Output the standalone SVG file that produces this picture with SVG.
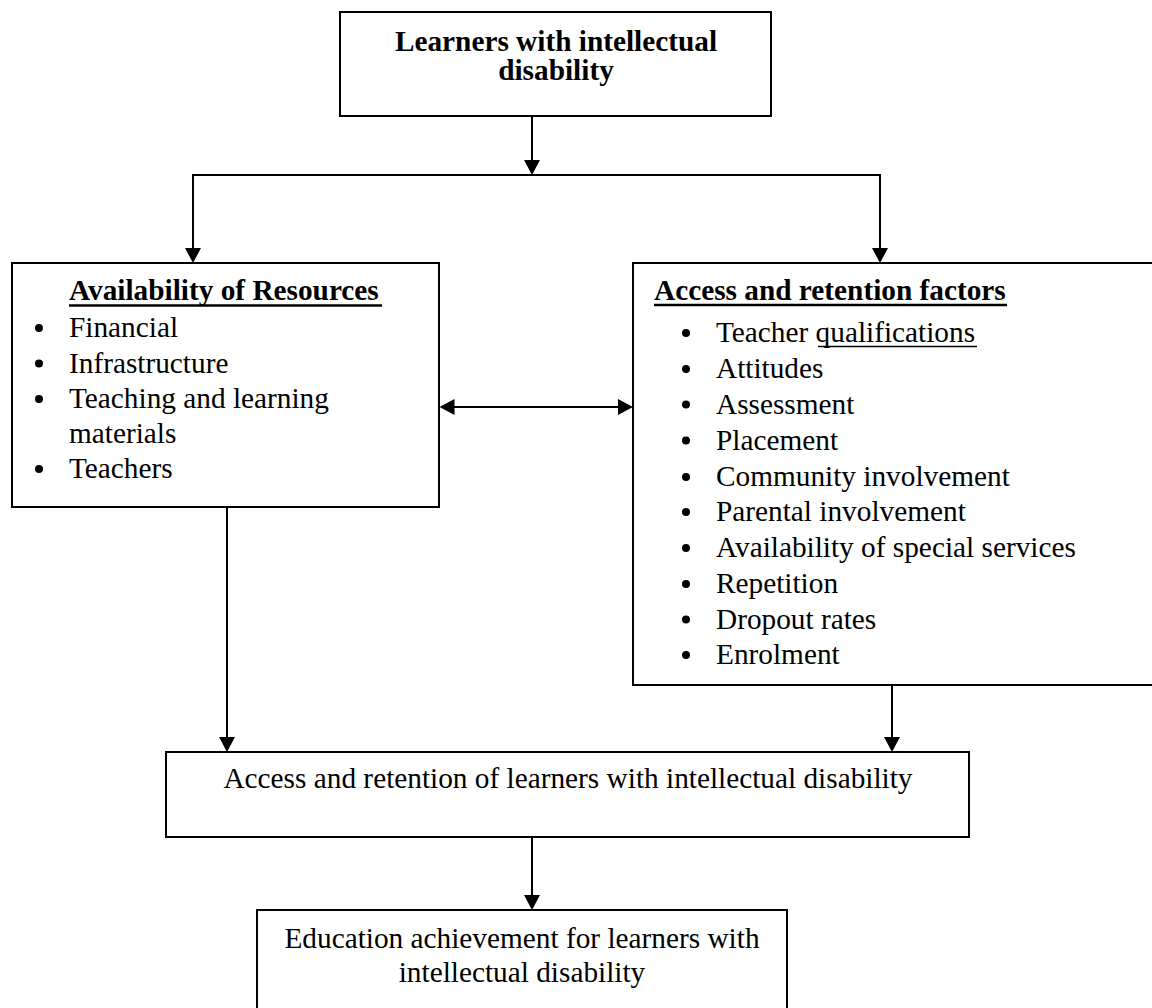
<svg xmlns="http://www.w3.org/2000/svg" width="1152" height="1008" viewBox="0 0 1152 1008">
<style>
  .box { fill: #ffffff; stroke: #000000; stroke-width: 2; }
  .t { font-family: "Liberation Serif", "Times New Roman", serif; font-size: 29.3px; fill: #000000; }
  .b { font-weight: bold; }
  .c { text-anchor: middle; }
  .ul { stroke: #000000; stroke-width: 2.5; }
  .ul2 { stroke: #000000; stroke-width: 1.5; }
  .conn { fill: none; stroke: #000000; stroke-width: 2; }
  .dot { fill: #000000; }
</style>
<defs>
  <marker id="ah" viewBox="0 0 15 16" refX="10" refY="8" markerWidth="15" markerHeight="16" markerUnits="userSpaceOnUse" orient="auto-start-reverse">
    <path d="M0,0 L15,8 L0,16 Z" fill="#000000"/>
  </marker>
</defs>
<rect x="0" y="0" width="1152" height="1008" fill="#ffffff"/>

<g id="connectors">
  <line class="conn" x1="532" y1="116" x2="532" y2="170" marker-end="url(#ah)"/>
  <polyline class="conn" points="193,258 193,175 880,175 880,258"/>
  <line class="conn" x1="193" y1="175" x2="193" y2="258" marker-end="url(#ah)"/>
  <line class="conn" x1="880" y1="175" x2="880" y2="258" marker-end="url(#ah)"/>
  <line class="conn" x1="444.5" y1="407" x2="628" y2="407" marker-start="url(#ah)" marker-end="url(#ah)"/>
  <line class="conn" x1="227" y1="507" x2="227" y2="747" marker-end="url(#ah)"/>
  <line class="conn" x1="892" y1="685" x2="892" y2="747" marker-end="url(#ah)"/>
  <line class="conn" x1="532" y1="837" x2="532" y2="905" marker-end="url(#ah)"/>
</g>

<g id="node-learners">
  <rect class="box" x="340" y="12" width="431" height="104"/>
  <text class="t b c" x="556" y="51">Learners with intellectual</text>
  <text class="t b c" x="556" y="80">disability</text>
</g>

<g id="node-resources">
  <rect class="box" x="12" y="263" width="427" height="244"/>
  <text class="t b" x="69" y="300">Availability of Resources</text>
  <line class="ul" x1="69" y1="305.5" x2="382" y2="305.5"/>
  <circle class="dot" cx="39" cy="328" r="4"/>
  <text class="t" x="69" y="337">Financial</text>
  <circle class="dot" cx="39" cy="363.5" r="4"/>
  <text class="t" x="69" y="372.5">Infrastructure</text>
  <circle class="dot" cx="39" cy="399" r="4"/>
  <text class="t" x="69" y="408">Teaching and learning</text>
  <text class="t" x="69" y="443">materials</text>
  <circle class="dot" cx="39" cy="469" r="4"/>
  <text class="t" x="69" y="478">Teachers</text>
</g>

<g id="node-factors">
  <rect class="box" x="633" y="263" width="522" height="422"/>
  <text class="t b" x="654" y="300">Access and retention factors</text>
  <line class="ul" x1="654" y1="305" x2="1007" y2="305"/>
  <circle class="dot" cx="686" cy="333" r="4"/>
  <text class="t" x="716" y="342">Teacher qualifications</text>
  <line class="ul2" x1="818" y1="346.5" x2="977" y2="346.5"/>
  <circle class="dot" cx="686" cy="369" r="4"/>
  <text class="t" x="716" y="378">Attitudes</text>
  <circle class="dot" cx="686" cy="404.5" r="4"/>
  <text class="t" x="716" y="413.5">Assessment</text>
  <circle class="dot" cx="686" cy="440.5" r="4"/>
  <text class="t" x="716" y="449.5">Placement</text>
  <circle class="dot" cx="686" cy="477" r="4"/>
  <text class="t" x="716" y="486">Community involvement</text>
  <circle class="dot" cx="686" cy="512" r="4"/>
  <text class="t" x="716" y="521">Parental involvement</text>
  <circle class="dot" cx="686" cy="548" r="4"/>
  <text class="t" x="716" y="557">Availability of special services</text>
  <circle class="dot" cx="686" cy="584" r="4"/>
  <text class="t" x="716" y="593">Repetition</text>
  <circle class="dot" cx="686" cy="619.5" r="4"/>
  <text class="t" x="716" y="628.5">Dropout rates</text>
  <circle class="dot" cx="686" cy="655" r="4"/>
  <text class="t" x="716" y="664">Enrolment</text>
</g>

<g id="node-access">
  <rect class="box" x="166" y="752" width="803" height="85"/>
  <text class="t c" x="568" y="788">Access and retention of learners with intellectual disability</text>
</g>

<g id="node-achievement">
  <rect class="box" x="257" y="910" width="530" height="110"/>
  <text class="t c" x="522" y="948">Education achievement for learners with</text>
  <text class="t c" x="522" y="982">intellectual disability</text>
</g>
</svg>
